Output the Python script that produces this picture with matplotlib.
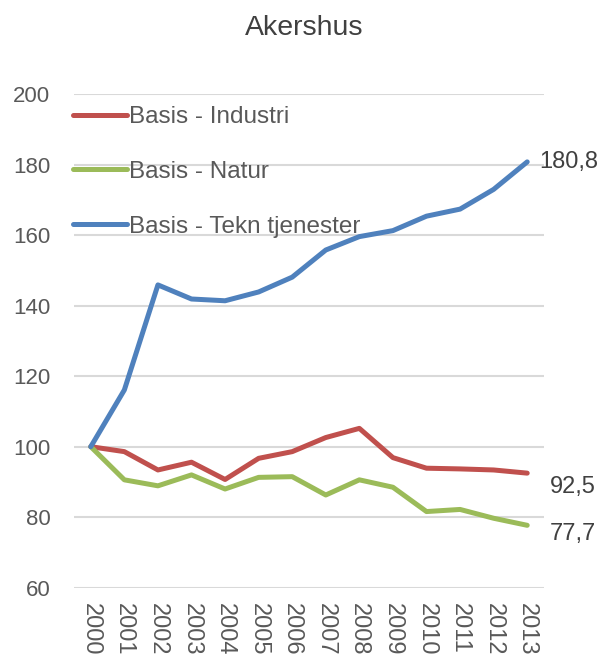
import matplotlib.pyplot as plt
import numpy as np

plt.rcParams['font.family'] = ['Liberation Sans', 'DejaVu Sans']

years = [str(y) for y in range(2000, 2014)]
industri = [100, 98.6, 93.4, 95.6, 90.7, 96.7, 98.6, 102.6, 105.2, 96.9, 93.9, 93.7, 93.4, 92.5]
natur = [100, 90.6, 88.9, 92.0, 88.0, 91.3, 91.5, 86.3, 90.6, 88.5, 81.6, 82.2, 79.7, 77.7]
tekn = [100, 116.1, 145.9, 141.9, 141.4, 143.9, 148.1, 155.8, 159.6, 161.3, 165.4, 167.4, 173.0, 180.8]

series = [
    ('Basis - Industri', industri, '#C0504D', (16, -10)),
    ('Basis - Natur', natur, '#9BBB59', (16, -6)),
    ('Basis - Tekn tjenester', tekn, '#4F81BD', (9, 0)),
]
text_col = '#595959'

fig = plt.figure(figsize=(6.01, 6.55), dpi=100)
ax = fig.add_axes([74 / 601, 1 - 587.7 / 655, 470 / 601, (587.7 - 94.2) / 655])

x = np.arange(len(years))
for name, vals, col, off in series:
    ax.plot(x, vals, color=col, lw=3.6, label=name, solid_capstyle='round', solid_joinstyle='round')
    ax.annotate(f'{vals[-1]:.1f}'.replace('.', ','), (x[-1], vals[-1]),
                xytext=off, textcoords='offset points', ha='left', va='center',
                fontsize=17, color='#404040', annotation_clip=False)

ax.set_xlim(-0.5, len(years) - 0.5)
ax.set_ylim(60, 200)
ax.set_yticks(range(60, 201, 20))
ax.set_xticks(x)
ax.set_xticklabels(years, rotation=-90)
ax.tick_params(axis='y', length=0, pad=17, labelsize=16, labelcolor=text_col)
ax.tick_params(axis='x', length=0, pad=11, labelsize=17, labelcolor=text_col)
ax.grid(axis='y', color='#D9D9D9', lw=1.5)
ax.set_axisbelow(True)
for s in ax.spines.values():
    s.set_visible(False)

leg = ax.legend(loc='upper left', bbox_to_anchor=(-0.002, 0.976), frameon=False,
                fontsize=17.5, handlelength=2.2, handletextpad=0.1, labelspacing=1.35,
                borderpad=0, borderaxespad=0)
for t in leg.get_texts():
    t.set_color(text_col)

fig.text(304 / 601, 1 - 28 / 655, 'Akershus', ha='center', va='center', fontsize=20.5, color='#404040')

fig.savefig('out.png', dpi=100)
